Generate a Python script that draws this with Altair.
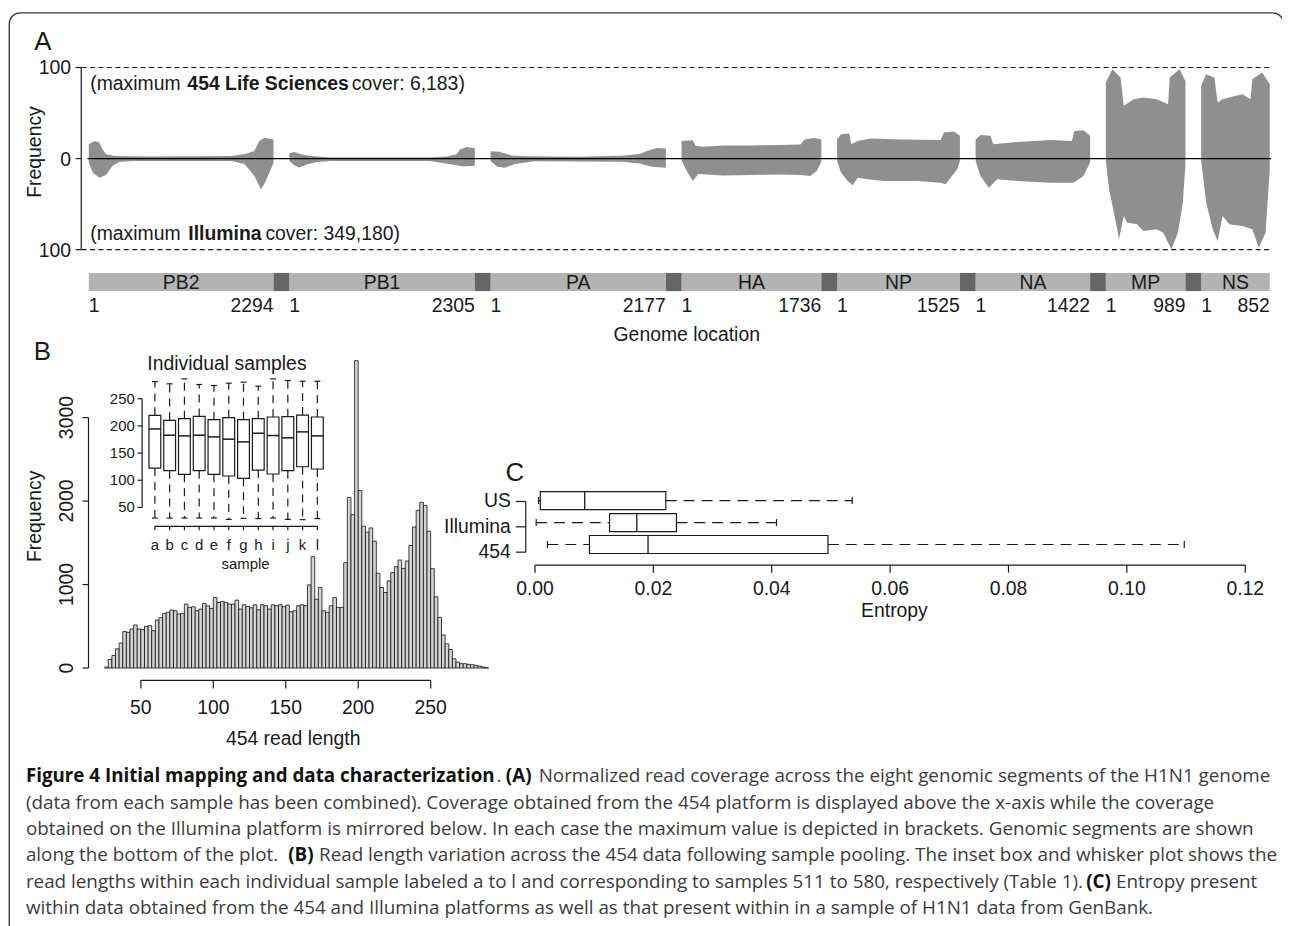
import altair as alt
import pandas as pd

# ------------------------------------------------------------------ layout helpers
OFF = 8.0            # page margin: page coordinate -> chart coordinate


def P(v):
    return v - OFF


W, H = 1282, 918
AXF = "Liberation Sans, Arial, Helvetica, sans-serif"
CAPF = "Open Sans, Noto Sans, sans-serif"
FS = 19.5
INK = "#1a1a1a"

# ------------------------------------------------------------------ panel A data
SEGMENTS = ["PB2", "PB1", "PA", "HA", "NP", "NA", "MP", "NS"]
SEG_LEN = [2294, 2305, 2177, 1736, 1525, 1422, 989, 852]
GAP_NT = 195
A_TICKS = [100, 0, -100]
A_TICK_LABELS = ["100", "0", "100"]

# coverage profiles: (fraction along segment, normalised coverage %)
PB2_UP = [(0, 15.8), (.03, 19.4), (.057, 17.6), (.075, 10), (.093, 4.8), (.146, 2.9), (.325, 2.2),
          (.593, 2.5), (.771, 2.8), (.843, 4.8), (.896, 8.4), (.923, 19.4), (.95, 23), (1, 21)]
PB2_LO = [(0, -4.4), (.021, -15.4), (.057, -21), (.093, -18), (.129, -8), (.164, -3.7), (.236, -2.6),
          (.771, -2.6), (.843, -6), (.896, -19), (.932, -33.7), (.95, -28), (.986, -11.7), (1, -4.4)]
PB1_UP = [(0, 5.9), (.027, 7.3), (.063, 4.8), (.116, 2.9), (.223, 1.1), (.759, 1.1), (.848, 2.2),
          (.902, 4.8), (.92, 10), (.955, 12.8), (1, 11.4)]
PB1_LO = [(0, -2.6), (.027, -7.3), (.054, -9.9), (.098, -6.2), (.152, -3.7), (.223, -2.6), (.759, -2.6),
          (.902, -7.3), (.938, -8.8), (1, -8)]
PA_UP = [(0, 8), (.05, 7.5), (.12, 3.5), (.2, 2.5), (.5, 2), (.75, 3), (.85, 5), (.9, 9), (.95, 11.5), (1, 11)]
PA_LO = [(0, -3), (.04, -9), (.08, -10), (.14, -6), (.25, -3), (.75, -3.5), (.85, -5.5), (.92, -9), (1, -10)]
HA_UP = [(0, 19.4), (.08, 20), (.1, 14), (.15, 13), (.3, 14.5), (.5, 14.5), (.7, 15), (.85, 15.5),
         (.88, 21), (.95, 22.5), (1, 21)]
HA_LO = [(0, -2), (.03, -11.7), (.08, -24.5), (.12, -17), (.3, -18.5), (.5, -18), (.7, -17.5), (.85, -18),
         (.92, -19), (.97, -13), (1, -3)]
NP_UP = [(0, 21), (.032, 26.7), (.1, 27.5), (.114, 15.7), (.168, 19.4), (.276, 22), (.519, 21), (.843, 20.5),
         (.87, 28.6), (.951, 29.7), (1, 25)]
NP_LO = [(0, -2.6), (.032, -15.4), (.086, -24.5), (.127, -29.3), (.168, -21), (.249, -22.7), (.384, -24.5),
         (.654, -24.5), (.843, -26.4), (.884, -28.2), (.924, -21), (.978, -11.7), (1, -2.6)]
NA_UP = [(0, 21), (.043, 26), (.13, 25), (.154, 15.7), (.362, 18.3), (.652, 20.5), (.841, 19.4),
         (.861, 30.4), (.942, 31), (1, 25)]
NA_LO = [(0, -2.6), (.043, -19), (.116, -31.9), (.188, -22.7), (.362, -24.5), (.652, -26.4), (.855, -26.4),
         (.942, -19), (1, -4.4)]
MP_UP = [(0, 83.5), (.082, 98), (.185, 89), (.226, 57.9), (.35, 65.2), (.473, 67), (.638, 65.2),
         (.782, 59.7), (.802, 89), (.926, 98), (1, 85)]
MP_LO = [(0, -2), (.041, -33.7), (.144, -77.7), (.165, -88.6), (.226, -63), (.267, -70.3), (.391, -72.2),
         (.473, -79.5), (.638, -77.7), (.72, -81.3), (.823, -99.6), (.905, -81.3), (.967, -48.4), (1, -5)]
NS_UP = [(0, 79.9), (.072, 92.7), (.192, 89), (.24, 61.5), (.313, 65.2), (.505, 68.9), (.601, 70.7),
         (.721, 65.2), (.745, 87.2), (.889, 94.5), (1, 81.7)]
NS_LO = [(0, -2), (.072, -48), (.168, -77.7), (.24, -90.5), (.313, -63), (.409, -72), (.601, -74),
         (.745, -77.7), (.841, -97.8), (.938, -81.3), (1, -11.7)]

# ------------------------------------------------------------------ panel B data
HIST_START = 25.0
HIST_BIN = 2.5
HIST_COUNTS = [12, 103, 150, 230, 300, 437, 428, 468, 516, 468, 460, 500, 508, 448, 575, 603, 655, 667,
               694, 686, 647, 655, 766, 726, 734, 686, 706, 774, 746, 714, 845, 786, 798, 786, 766, 766,
               813, 706, 758, 738, 722, 758, 698, 758, 746, 706, 758, 746, 758, 734, 754, 675, 686, 746,
               758, 746, 996, 1333, 825, 964, 686, 667, 746, 845, 726, 726, 1262, 2044, 1837, 3682, 2127,
               1698, 1627, 1679, 1520, 1135, 964, 905, 1044, 1143, 1214, 1294, 1194, 1282, 1468, 1690,
               1889, 1984, 1948, 1639, 1190, 853, 607, 397, 290, 222, 111, 71, 52, 52, 44, 40, 32, 24, 12, 4]
B_YTICKS = [0, 1000, 2000, 3000]
B_XTICKS = [50, 100, 150, 200, 250]

SAMPLES = list("abcdefghijkl")
S_Q3 = [219.5, 210.3, 213.4, 217.6, 211.6, 215.2, 211.6, 213.4, 216.4, 217.0, 220.0, 216.4]
S_MED = [194.4, 182.9, 181.6, 182.9, 179.8, 175.6, 170.6, 186.5, 182.3, 178.0, 189.0, 181.6]
S_Q1 = [122.5, 117.6, 111.0, 117.6, 111.0, 107.9, 103.6, 118.8, 111.5, 117.6, 124.9, 120.7]
S_HI = [281.6, 277.4, 286.6, 276.2, 274.3, 278.6, 280.4, 273.1, 286.6, 283.5, 282.2, 282.2]
S_LO = [30.5, 30.5, 30.5, 30.5, 30.5, 28.0, 30.0, 29.5, 30.5, 28.0, 27.5, 29.5]
INSET_YTICKS = [50, 100, 150, 200, 250]

# ------------------------------------------------------------------ panel C data
C_GROUPS = ["454", "Illumina", "US"]
C_LOW = [0.0021, 0.0002, 0.0006]
C_Q1 = [0.0092, 0.0126, 0.0009]
C_MED = [0.0191, 0.0172, 0.0084]
C_Q3 = [0.0495, 0.0239, 0.0221]
C_HIGH = [0.1097, 0.0408, 0.0536]
C_XTICKS = [0.0, 0.02, 0.04, 0.06, 0.08, 0.10, 0.12]

# ------------------------------------------------------------------ caption
CAPTION = [
    (0, 26, "Figure 4 Initial mapping and data characterization", True),
    (0, 499.5, ".", False),
    (0, 509, "(A)", True),
    (0, 542, "Normalized read coverage across the eight genomic segments of the H1N1 genome", False),
    (1, 26, "(data from each sample has been combined). Coverage obtained from the 454 platform is "
            "displayed above the x-axis while the coverage", False),
    (2, 26, "obtained on the Illumina platform is mirrored below. In each case the maximum value is "
            "depicted in brackets. Genomic segments are shown", False),
    (3, 26, "along the bottom of the plot.", False),
    (3, 290, "(B)", True),
    (3, 321, "Read length variation across the 454 data following sample pooling. The inset box and "
             "whisker plot shows the", False),
    (4, 26, "read lengths within each individual sample labeled a to l and corresponding to samples "
            "511 to 580, respectively (Table 1).", False),
    (4, 1093, "(C)", True),
    (4, 1123, "Entropy present", False),
    (5, 26, "within data obtained from the 454 and Illumina platforms as well as that present within "
            "in a sample of H1N1 data from GenBank.", False),
]

# ------------------------------------------------------------------ scales


def S(dom, rng):
    return alt.Scale(domain=dom, range=[P(rng[0]), P(rng[1])], nice=False, zero=False)


starts = []
acc = 0
for L in SEG_LEN:
    starts.append(acc)
    acc += L + GAP_NT
TOTAL = acc - GAP_NT

XA = S([0, TOTAL], [89.3, 1277.7])
YA = S([-100, 100], [248.3, 65])
XB = S([50, 250], [141.7, 433.3])
YB = S([0, 3000], [669.3, 417.3])
XI = S([0, 11], [155.8, 319.3])
YI = S([50, 250], [507.7, 398.3])
XC = S([0, 0.12], [538.3, 1253])
YC = S([0, 2], [545, 500.8])
YCA = S([0, 2], [552.7, 501.7])
XCAP = S([0, 1290], [0, 1290])
YCAP = S([0, 5], [778.3, 910.7])


def one():
    return pd.DataFrame({"k": [0]})


def label(text, x, y, size=FS, font=AXF, align="center", angle=0, weight="normal", color=INK):
    kw = dict(text=text, font=font, fontSize=size, align=align, baseline="middle",
              color=color, fontWeight=weight)
    if angle:
        kw["angle"] = angle
    return alt.Chart(one()).mark_text(**kw).encode(x=alt.value(P(x)), y=alt.value(P(y)))


def qx(field, scale):
    return alt.X(field, type="quantitative", scale=scale, axis=None)


def qy(field, scale):
    return alt.Y(field, type="quantitative", scale=scale, axis=None)


layers = []

# border of the figure box
layers.append(alt.Chart(one()).mark_rect(fill="transparent", stroke="#3a3a3a", strokeWidth=1.4,
                                         cornerRadius=11).encode(
    x=alt.value(P(9.3)), x2=alt.value(P(1291.5)), y=alt.value(P(10)), y2=alt.value(P(1100))))

# ------------------------------------------------------------------ panel A
profiles = {"PB2": (PB2_UP, PB2_LO), "PB1": (PB1_UP, PB1_LO), "PA": (PA_UP, PA_LO),
            "HA": (HA_UP, HA_LO), "NP": (NP_UP, NP_LO), "NA": (NA_UP, NA_LO),
            "MP": (MP_UP, MP_LO), "NS": (NS_UP, NS_LO)}
rows = []
for name, st, L in zip(SEGMENTS, starts, SEG_LEN):
    up, lo = profiles[name]
    for side, prof in (("up", up), ("lo", lo)):
        for f, v in prof:
            rows.append({"grp": f"{name}-{side}", "pos": st + f * L, "val": v, "base": 0})
cov_df = pd.DataFrame(rows)

layers.append(alt.Chart(cov_df).mark_area(color="#8f8f8f", interpolate="linear").encode(
    x=qx("pos", XA), y=alt.Y("val", type="quantitative", scale=YA, axis=None, stack=None),
    y2=alt.Y2("base"), detail="grp:N"))

layers.append(alt.Chart(pd.DataFrame({"v": [100, -100]})).mark_rule(
    strokeDash=[5, 3.5], color=INK, strokeWidth=1.1).encode(
    y=qy("v", YA), x=alt.value(P(82)), x2=alt.value(P(1277.3))))
layers.append(alt.Chart(pd.DataFrame({"v": [0]})).mark_rule(color="#000", strokeWidth=1.4).encode(
    y=qy("v", YA), x=alt.value(P(88)), x2=alt.value(P(1279))))

layers.append(alt.Chart(pd.DataFrame({"a": [-100], "b": [100]})).mark_rule(color=INK, strokeWidth=1.2).encode(
    x=alt.value(P(81.7)), y=qy("a", YA), y2=alt.Y2("b")))
a_ticks = pd.DataFrame({"v": A_TICKS, "lab": A_TICK_LABELS})
layers.append(alt.Chart(a_ticks).mark_rule(color=INK, strokeWidth=1.2).encode(
    y=qy("v", YA), x=alt.value(P(76)), x2=alt.value(P(81.7))))
layers.append(alt.Chart(a_ticks).mark_text(font=AXF, fontSize=FS, align="right", baseline="middle",
                                           color=INK, dy=1).encode(
    y=qy("v", YA), x=alt.value(P(71.5)), text="lab:N"))
layers.append(label("Frequency", 35, 150, angle=270))
layers.append(label("A", 43, 39, size=26))

# max-cover annotations
layers.append(label("(maximum", 90.7, 81.5, align="left"))
layers.append(label("454 Life Sciences", 188.5, 81.5, align="left", weight="bold"))
layers.append(label("cover: 6,183)", 354, 81.5, align="left"))
layers.append(label("(maximum", 90.7, 233, align="left"))
layers.append(label("Illumina", 189.5, 233, align="left", weight="bold"))
layers.append(label("cover: 349,180)", 267, 233, align="left"))

seg_df = pd.DataFrame({
    "name": SEGMENTS,
    "start": starts,
    "end": [s + L for s, L in zip(starts, SEG_LEN)],
    "mid": [s + L / 2 for s, L in zip(starts, SEG_LEN)],
    "one": ["1"] * len(SEGMENTS),
    "len": [str(L) for L in SEG_LEN],
})
gap_df = pd.DataFrame({"g0": list(seg_df["end"][:-1]), "g1": list(seg_df["start"][1:])})
layers.append(alt.Chart(seg_df).mark_rect(color="#b3b3b3").encode(
    x=qx("start", XA), x2=alt.X2("end"), y=alt.value(P(271.7)), y2=alt.value(P(290))))
layers.append(alt.Chart(gap_df).mark_rect(color="#666666").encode(
    x=qx("g0", XA), x2=alt.X2("g1"), y=alt.value(P(271.7)), y2=alt.value(P(290))))
layers.append(alt.Chart(seg_df).mark_text(font=AXF, fontSize=FS, baseline="middle", color=INK).encode(
    x=qx("mid", XA), y=alt.value(P(282)), text="name:N"))
layers.append(alt.Chart(seg_df).mark_text(font=AXF, fontSize=FS, baseline="middle", align="left",
                                          color=INK).encode(
    x=qx("start", XA), y=alt.value(P(305.5)), text="one:N"))
layers.append(alt.Chart(seg_df).mark_text(font=AXF, fontSize=FS, baseline="middle", align="right",
                                          color=INK).encode(
    x=qx("end", XA), y=alt.value(P(305.5)), text="len:N"))
layers.append(label("Genome location", 691, 334.5))

# ------------------------------------------------------------------ panel B histogram
hist_df = pd.DataFrame({
    "lo": [HIST_START + HIST_BIN * i for i in range(len(HIST_COUNTS))],
    "n": HIST_COUNTS,
})
hist_df["hi"] = hist_df["lo"] + HIST_BIN
hist_df["base"] = 0
layers.append(alt.Chart(hist_df).mark_rect(fill="#d4d4d4", stroke="#111", strokeWidth=0.8).encode(
    x=qx("lo", XB), x2=alt.X2("hi"), y=qy("n", YB), y2=alt.Y2("base")))

layers.append(alt.Chart(pd.DataFrame({"a": [0], "b": [3000]})).mark_rule(color=INK, strokeWidth=1.2).encode(
    x=alt.value(P(89)), y=qy("a", YB), y2=alt.Y2("b")))
b_yt = pd.DataFrame({"v": B_YTICKS, "lab": [str(v) for v in B_YTICKS]})
layers.append(alt.Chart(b_yt).mark_rule(color=INK, strokeWidth=1.2).encode(
    y=qy("v", YB), x=alt.value(P(83)), x2=alt.value(P(89))))
layers.append(alt.Chart(b_yt).mark_text(font=AXF, fontSize=FS, angle=270, baseline="middle",
                                        color=INK).encode(
    y=qy("v", YB), x=alt.value(P(67)), text="lab:N"))
layers.append(alt.Chart(pd.DataFrame({"a": [50], "b": [250]})).mark_rule(color=INK, strokeWidth=1.2).encode(
    y=alt.value(P(681.7)), x=qx("a", XB), x2=alt.X2("b")))
b_xt = pd.DataFrame({"v": B_XTICKS, "lab": [str(v) for v in B_XTICKS]})
layers.append(alt.Chart(b_xt).mark_rule(color=INK, strokeWidth=1.2).encode(
    x=qx("v", XB), y=alt.value(P(681.7)), y2=alt.value(P(690))))
layers.append(alt.Chart(b_xt).mark_text(font=AXF, fontSize=FS, baseline="middle", color=INK).encode(
    x=qx("v", XB), y=alt.value(P(710)), text="lab:N"))
layers.append(label("454 read length", 295, 741))
layers.append(label("Frequency", 35, 516.7, angle=270))
layers.append(label("B", 42.5, 351.5, size=26))

# ------------------------------------------------------------------ inset box plot
inset = pd.DataFrame({"idx": list(range(len(SAMPLES))), "s": SAMPLES, "q1": S_Q1, "med": S_MED,
                      "q3": S_Q3, "lo": S_LO, "hi": S_HI})
inset["l"] = inset["idx"] - 0.4
inset["r"] = inset["idx"] + 0.4
inset["cl"] = inset["idx"] - 0.2
inset["cr"] = inset["idx"] + 0.2
layers.append(alt.Chart(inset).mark_rule(color=INK, strokeWidth=1.2, strokeDash=[8, 6]).encode(
    x=qx("idx", XI), y=qy("q3", YI), y2=alt.Y2("hi")))
layers.append(alt.Chart(inset).mark_rule(color=INK, strokeWidth=1.2, strokeDash=[8, 6]).encode(
    x=qx("idx", XI), y=qy("q1", YI), y2=alt.Y2("lo")))
layers.append(alt.Chart(inset).mark_rule(color=INK, strokeWidth=1.2).encode(
    x=qx("cl", XI), x2=alt.X2("cr"), y=qy("hi", YI)))
layers.append(alt.Chart(inset).mark_rule(color=INK, strokeWidth=1.2).encode(
    x=qx("cl", XI), x2=alt.X2("cr"), y=qy("lo", YI)))
layers.append(alt.Chart(inset).mark_rect(fill="white", stroke=INK, strokeWidth=1.2).encode(
    x=qx("l", XI), x2=alt.X2("r"), y=qy("q1", YI), y2=alt.Y2("q3")))
layers.append(alt.Chart(inset).mark_rule(color=INK, strokeWidth=1.5).encode(
    x=qx("l", XI), x2=alt.X2("r"), y=qy("med", YI)))

layers.append(alt.Chart(pd.DataFrame({"a": [50], "b": [250]})).mark_rule(color=INK, strokeWidth=1.2).encode(
    x=alt.value(P(143)), y=qy("a", YI), y2=alt.Y2("b")))
i_yt = pd.DataFrame({"v": INSET_YTICKS, "lab": [str(v) for v in INSET_YTICKS]})
layers.append(alt.Chart(i_yt).mark_rule(color=INK, strokeWidth=1.2).encode(
    y=qy("v", YI), x=alt.value(P(138.3)), x2=alt.value(P(143))))
layers.append(alt.Chart(i_yt).mark_text(font=AXF, fontSize=15, baseline="middle", align="right",
                                        color=INK).encode(
    y=qy("v", YI), x=alt.value(P(135.5)), text="lab:N"))
layers.append(alt.Chart(pd.DataFrame({"a": [0], "b": [11]})).mark_rule(color=INK, strokeWidth=1.2).encode(
    y=alt.value(P(526.7)), x=qx("a", XI), x2=alt.X2("b")))
layers.append(alt.Chart(inset).mark_rule(color=INK, strokeWidth=1.2).encode(
    x=qx("idx", XI), y=alt.value(P(526.7)), y2=alt.value(P(530.7))))
layers.append(alt.Chart(inset).mark_text(font=AXF, fontSize=15, baseline="middle", color=INK).encode(
    x=qx("idx", XI), y=alt.value(P(546)), text="s:N"))
layers.append(label("sample", 247, 565, size=15))
layers.append(label("Individual samples", 228.3, 363))

# ------------------------------------------------------------------ panel C
cdf = pd.DataFrame({"idx": [0, 1, 2], "grp": C_GROUPS, "low": C_LOW, "q1": C_Q1, "med": C_MED,
                    "q3": C_Q3, "high": C_HIGH})
cdf["b0"] = cdf["idx"] - 0.41
cdf["b1"] = cdf["idx"] + 0.41
cdf["c0"] = cdf["idx"] - 0.16
cdf["c1"] = cdf["idx"] + 0.16
layers.append(alt.Chart(cdf).mark_rule(color=INK, strokeWidth=1.2, strokeDash=[11, 7]).encode(
    x=qx("low", XC), x2=alt.X2("q1"), y=qy("idx", YC)))
layers.append(alt.Chart(cdf).mark_rule(color=INK, strokeWidth=1.2, strokeDash=[11, 7]).encode(
    x=qx("q3", XC), x2=alt.X2("high"), y=qy("idx", YC)))
layers.append(alt.Chart(cdf).mark_rule(color=INK, strokeWidth=1.2).encode(
    x=qx("low", XC), y=qy("c0", YC), y2=alt.Y2("c1")))
layers.append(alt.Chart(cdf).mark_rule(color=INK, strokeWidth=1.2).encode(
    x=qx("high", XC), y=qy("c0", YC), y2=alt.Y2("c1")))
layers.append(alt.Chart(cdf).mark_rect(fill="white", stroke=INK, strokeWidth=1.2).encode(
    x=qx("q1", XC), x2=alt.X2("q3"), y=qy("b0", YC), y2=alt.Y2("b1")))
layers.append(alt.Chart(cdf).mark_rule(color=INK, strokeWidth=1.3).encode(
    x=qx("med", XC), y=qy("b0", YC), y2=alt.Y2("b1")))

layers.append(alt.Chart(pd.DataFrame({"a": [0], "b": [2]})).mark_rule(color=INK, strokeWidth=1.2).encode(
    x=alt.value(P(529)), y=qy("a", YCA), y2=alt.Y2("b")))
layers.append(alt.Chart(cdf).mark_rule(color=INK, strokeWidth=1.2).encode(
    y=qy("idx", YCA), x=alt.value(P(519)), x2=alt.value(P(529))))
layers.append(alt.Chart(cdf).mark_text(font=AXF, fontSize=FS, baseline="middle", align="right",
                                       color=INK).encode(
    y=qy("idx", YCA), x=alt.value(P(514)), text="grp:N"))
layers.append(alt.Chart(pd.DataFrame({"a": [0], "b": [0.12]})).mark_rule(color=INK, strokeWidth=1.2).encode(
    y=alt.value(P(565.7)), x=qx("a", XC), x2=alt.X2("b")))
c_xt = pd.DataFrame({"v": C_XTICKS, "lab": [f"{v:.2f}" for v in C_XTICKS]})
layers.append(alt.Chart(c_xt).mark_rule(color=INK, strokeWidth=1.2).encode(
    x=qx("v", XC), y=alt.value(P(565.7)), y2=alt.value(P(573.3))))
layers.append(alt.Chart(c_xt).mark_text(font=AXF, fontSize=FS, baseline="middle", color=INK).encode(
    x=qx("v", XC), y=alt.value(P(590)), text="lab:N"))
layers.append(label("Entropy", 900, 611.5))
layers.append(label("C", 518, 473, size=26))

# ------------------------------------------------------------------ caption
cap_df = pd.DataFrame(CAPTION, columns=["line", "x", "text", "bold"])
reg = cap_df[~cap_df["bold"]].drop(columns="bold")
bld = cap_df[cap_df["bold"]].drop(columns="bold")
layers.append(alt.Chart(reg).mark_text(font=CAPF, fontSize=18.95, align="left", baseline="middle",
                                       color="#3c3c3c").encode(
    x=qx("x", XCAP), y=qy("line", YCAP), text="text:N"))
layers.append(alt.Chart(bld).mark_text(font=CAPF, fontSize=18.9, align="left", baseline="middle",
                                       fontWeight="bold", color="#111").encode(
    x=qx("x", XCAP), y=qy("line", YCAP), text="text:N"))

chart = alt.layer(*layers).resolve_scale(x="independent", y="independent").properties(
    width=W, height=H, autosize=alt.AutoSizeParams(type="none"), padding=0,
    background="white").configure_view(strokeWidth=0)

chart.save("out.html", embed_options={"renderer": "svg", "actions": False})
